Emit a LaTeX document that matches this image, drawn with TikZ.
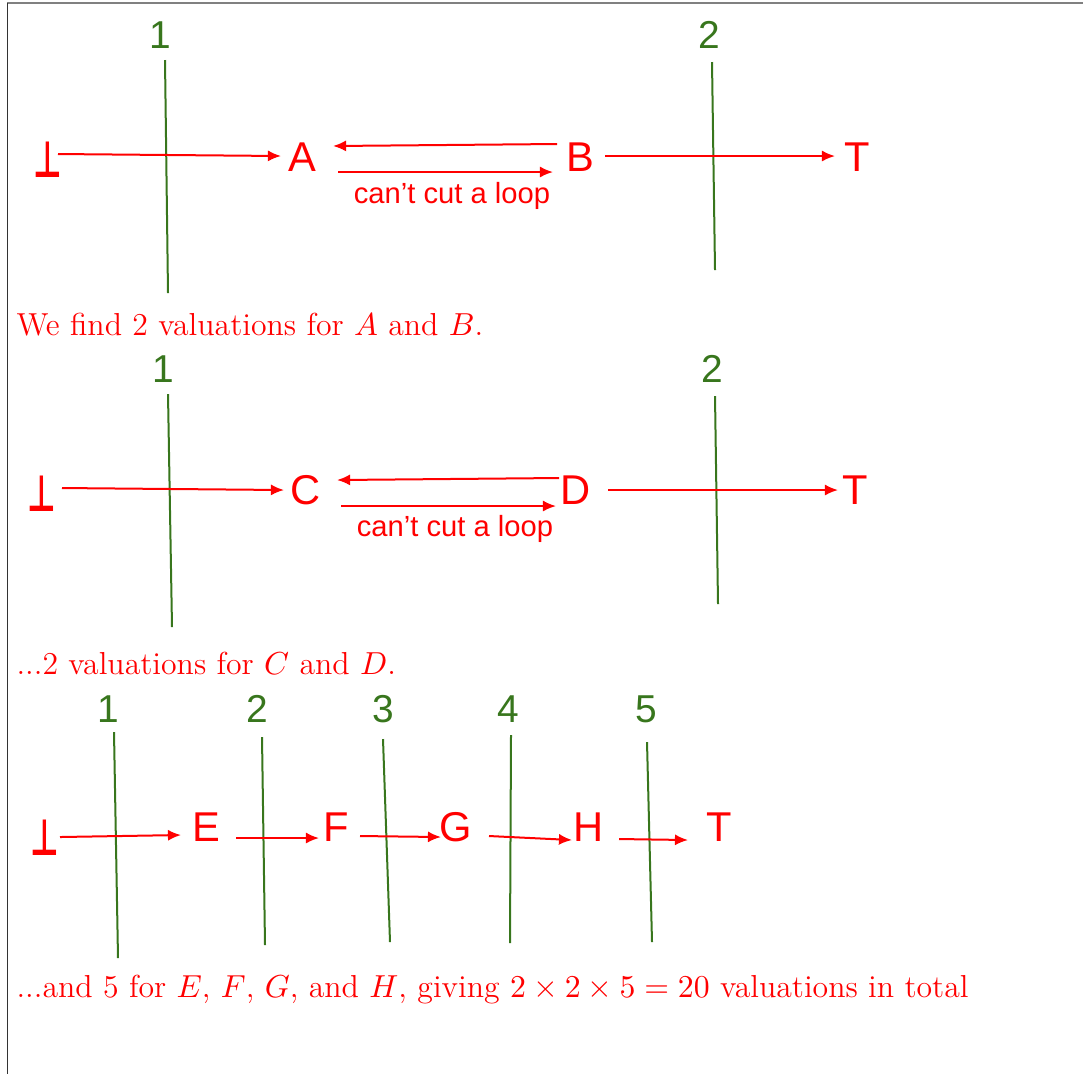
\RequirePackage{fix-cm}
\documentclass[tikz,border=0pt]{standalone}
\usepackage{fontspec}
\newfontfamily\labfont{Liberation Sans}
\newfontfamily\symfont{DejaVu Sans}
\usetikzlibrary{arrows.meta}
\definecolor{cutgreen}{HTML}{38761D}
\definecolor{arrred}{HTML}{FF0000}
\begin{document}
\begin{tikzpicture}[x=0.36pt,y=-0.36pt,
 lbl/.style={text=arrred, font=\labfont\fontsize{15}{18}\selectfont, inner sep=0pt},
 botsym/.style={text=arrred, font=\symfont\bfseries\fontsize{14.5}{17}\selectfont, inner sep=0pt, xscale=0.78, yscale=1.25},
 num/.style={text=cutgreen, font=\labfont\fontsize{14}{17}\selectfont, inner sep=0pt},
 note/.style={text=arrred, font=\labfont\fontsize{10.5}{12}\selectfont, inner sep=0pt},
 capt/.style={text=arrred, font=\fontsize{11.45}{13.5}\selectfont, anchor=base west, inner sep=0pt},
 arr/.style={draw=arrred, line width=0.72pt, -{Latex[length=4.7pt,width=4pt]}},
 cutline/.style={draw=cutgreen, line width=0.72pt},
]
\useasboundingbox (0,0) rectangle (1083,1074);
\draw[gray, line width=0.72pt] (7,3) -- (1083,3);
\draw[black!80, line width=0.36pt] (7,3) -- (7,1074);

% ---------- panel 1 ----------
\node[num] (n11) at (160,35) {1};
\node[num] (n12) at (709,35) {2};
\coordinate (c11t) at (165,60);  \coordinate (c11b) at (168,293);
\coordinate (c12t) at (712,62);  \coordinate (c12b) at (715,270);
\draw[cutline] (c11t) -- (c11b);
\draw[cutline] (c12t) -- (c12b);
\node[botsym] (bot1) at (48,160) {⊥};
\node[lbl] (A1) at (302,157) {A};
\node[lbl] (B1) at (580,157) {B};
\node[lbl] (T1) at (857,157) {T};
\draw[arr] ([shift={(10,-6)}]bot1.center) -- ([shift={(-21,-1)}]A1.center);
\draw[arr] ([shift={(-23,-13)}]B1.center) -- ([shift={(31,-11)}]A1.center);
\draw[arr] ([shift={(36,15)}]A1.center) -- ([shift={(-27,15)}]B1.center);
\draw[arr] ([shift={(25,-1)}]B1.center) -- ([shift={(-22,-1)}]T1.center);
\node[note] (loop1) at (452,196) {can’t cut a loop};
\node[capt] (txt1) at (16,335) {We find 2 valuations for $A$ and $B$.};

% ---------- panel 2 ----------
\node[num] (n21) at (163,369) {1};
\node[num] (n22) at (712,369) {2};
\coordinate (c21t) at (168,394);  \coordinate (c21b) at (172,627);
\coordinate (c22t) at (715,396);  \coordinate (c22b) at (718,604);
\draw[cutline] (c21t) -- (c21b);
\draw[cutline] (c22t) -- (c22b);
\node[botsym] (bot2) at (42,494) {⊥};
\node[lbl] (C2) at (306,490) {C};
\node[lbl] (D2) at (576,490) {D};
\node[lbl] (T2) at (855,490) {T};
\draw[arr] ([shift={(20,-6)}]bot2.center) -- ([shift={(-22,0)}]C2.center);
\draw[arr] ([shift={(-17,-12)}]D2.center) -- ([shift={(31,-10)}]C2.center);
\draw[arr] ([shift={(35,16)}]C2.center) -- ([shift={(-20,16)}]D2.center);
\draw[arr] ([shift={(32,0)}]D2.center) -- ([shift={(-17,0)}]T2.center);
\node[note] (loop2) at (455,529) {can’t cut a loop};
\node[capt] (txt2) at (16,674) {...2 valuations for $C$ and $D$.};

% ---------- panel 3 ----------
\node[num] (n31) at (108,709) {1};
\node[num] (n32) at (257,709) {2};
\node[num] (n33) at (383,709) {3};
\node[num] (n34) at (508,709) {4};
\node[num] (n35) at (646,709) {5};
\coordinate (c31t) at (114,732);  \coordinate (c31b) at (118,958);
\coordinate (c32t) at (262,737);  \coordinate (c32b) at (265,945);
\coordinate (c33t) at (383,739);  \coordinate (c33b) at (390,942);
\coordinate (c34t) at (511,735);  \coordinate (c34b) at (510,943);
\coordinate (c35t) at (647,742);  \coordinate (c35b) at (652,942);
\foreach \i in {1,...,5} {\draw[cutline] (c3\i t) -- (c3\i b);}
\node[botsym] (bot3) at (45,838) {⊥};
\node[lbl] (E3) at (206,827) {E};
\node[lbl] (F3) at (336,827) {F};
\node[lbl] (G3) at (456,827) {G};
\node[lbl] (H3) at (589,827) {H};
\node[lbl] (T3) at (719,827) {T};
\draw[arr] ([shift={(15,-1)}]bot3.center) -- ([shift={(-25,8)}]E3.center);
\draw[arr] ([shift={(30,11)}]E3.center) -- ([shift={(-17,11)}]F3.center);
\draw[arr] ([shift={(24,9)}]F3.center) -- ([shift={(-15,10)}]G3.center);
\draw[arr] ([shift={(33,9)}]G3.center) -- ([shift={(-17,13)}]H3.center);
\draw[arr] ([shift={(30,12)}]H3.center) -- ([shift={(-31,13)}]T3.center);
\node[capt] (txt3) at (16,997) {...and 5 for $E$, $F$, $G$, and $H$, giving $2\times 2\times 5=20$ valuations in total};
\end{tikzpicture}
\end{document}
